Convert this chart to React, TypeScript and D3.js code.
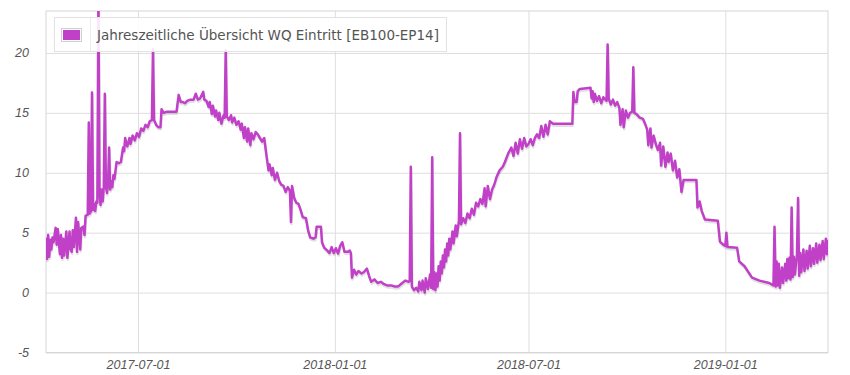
import React, { useEffect, useRef } from 'react';
import * as d3 from 'd3';

const seriesLabel = 'Jahreszeitliche Übersicht WQ Eintritt [EB100-EP14]';
const yTicks = [-5, 0, 5, 10, 15, 20];
const xTickLabels = ['2017-07-01', '2018-01-01', '2018-07-01', '2019-01-01'];

// sample dates, one line per month
const dates = [
  '2017-04-06', '2017-04-07', '2017-04-08', '2017-04-09', '2017-04-10', '2017-04-11', '2017-04-12', '2017-04-13', '2017-04-15', '2017-04-16', '2017-04-17', '2017-04-19', '2017-04-20', '2017-04-21', '2017-04-22', '2017-04-23', '2017-04-25', '2017-04-26', '2017-04-28', '2017-04-29', '2017-04-30',
  '2017-05-01', '2017-05-02', '2017-05-04', '2017-05-05', '2017-05-06', '2017-05-08', '2017-05-09', '2017-05-11', '2017-05-12', '2017-05-13', '2017-05-15', '2017-05-16', '2017-05-17', '2017-05-18', '2017-05-19', '2017-05-20', '2017-05-21', '2017-05-22', '2017-05-23', '2017-05-24', '2017-05-25', '2017-05-26', '2017-05-27', '2017-05-28', '2017-05-29', '2017-05-30', '2017-05-31',
  '2017-06-01', '2017-06-02', '2017-06-03', '2017-06-04', '2017-06-05', '2017-06-06', '2017-06-07', '2017-06-08', '2017-06-09', '2017-06-10', '2017-06-11', '2017-06-13', '2017-06-15', '2017-06-17', '2017-06-18', '2017-06-19', '2017-06-20', '2017-06-21', '2017-06-23', '2017-06-24', '2017-06-26', '2017-06-28', '2017-06-30',
  '2017-07-02', '2017-07-04', '2017-07-06', '2017-07-08', '2017-07-10', '2017-07-12', '2017-07-14', '2017-07-15', '2017-07-16', '2017-07-18', '2017-07-20', '2017-07-22', '2017-07-23', '2017-07-25', '2017-07-28',
  '2017-08-02', '2017-08-06', '2017-08-08', '2017-08-10', '2017-08-12', '2017-08-14', '2017-08-16', '2017-08-19', '2017-08-22', '2017-08-24', '2017-08-26', '2017-08-28', '2017-08-31',
  '2017-09-01', '2017-09-03', '2017-09-05', '2017-09-06', '2017-09-08', '2017-09-09', '2017-09-11', '2017-09-12', '2017-09-14', '2017-09-15', '2017-09-17', '2017-09-19', '2017-09-20', '2017-09-21', '2017-09-22', '2017-09-24', '2017-09-26', '2017-09-27', '2017-09-29',
  '2017-10-01', '2017-10-03', '2017-10-05', '2017-10-06', '2017-10-08', '2017-10-09', '2017-10-11', '2017-10-12', '2017-10-14', '2017-10-15', '2017-10-17', '2017-10-19', '2017-10-21', '2017-10-23', '2017-10-25', '2017-10-27', '2017-10-29', '2017-10-31',
  '2017-11-01', '2017-11-03', '2017-11-04', '2017-11-06', '2017-11-08', '2017-11-10', '2017-11-12', '2017-11-14', '2017-11-16', '2017-11-18', '2017-11-20', '2017-11-21', '2017-11-22', '2017-11-24', '2017-11-26', '2017-11-28', '2017-11-30',
  '2017-12-02', '2017-12-05', '2017-12-07', '2017-12-09', '2017-12-12', '2017-12-14', '2017-12-15', '2017-12-19', '2017-12-20', '2017-12-22', '2017-12-25', '2017-12-27', '2017-12-29', '2017-12-31',
  '2018-01-02', '2018-01-04', '2018-01-06', '2018-01-08', '2018-01-10', '2018-01-13', '2018-01-15', '2018-01-16', '2018-01-17', '2018-01-19', '2018-01-21', '2018-01-23', '2018-01-26', '2018-01-28', '2018-01-31',
  '2018-02-02', '2018-02-04', '2018-02-07', '2018-02-10', '2018-02-13', '2018-02-16', '2018-02-19', '2018-02-23', '2018-02-26',
  '2018-03-01', '2018-03-05', '2018-03-08', '2018-03-11', '2018-03-12', '2018-03-13', '2018-03-14', '2018-03-16', '2018-03-18', '2018-03-20', '2018-03-21', '2018-03-23', '2018-03-24', '2018-03-26', '2018-03-27', '2018-03-29', '2018-03-31',
  '2018-04-01', '2018-04-02', '2018-04-03', '2018-04-04', '2018-04-05', '2018-04-06', '2018-04-07', '2018-04-08', '2018-04-09', '2018-04-10', '2018-04-11', '2018-04-12', '2018-04-13', '2018-04-14', '2018-04-15', '2018-04-16', '2018-04-17', '2018-04-18', '2018-04-19', '2018-04-21', '2018-04-22', '2018-04-24', '2018-04-25', '2018-04-27', '2018-04-28', '2018-04-29',
  '2018-05-01', '2018-05-03', '2018-05-05', '2018-05-07', '2018-05-09', '2018-05-11', '2018-05-13', '2018-05-15', '2018-05-17', '2018-05-19', '2018-05-21', '2018-05-22', '2018-05-24', '2018-05-26', '2018-05-28', '2018-05-30',
  '2018-06-01', '2018-06-04', '2018-06-07', '2018-06-09', '2018-06-12', '2018-06-15', '2018-06-17', '2018-06-19', '2018-06-21', '2018-06-23', '2018-06-25', '2018-06-27', '2018-06-29',
  '2018-07-01', '2018-07-03', '2018-07-05', '2018-07-07', '2018-07-09', '2018-07-11', '2018-07-13', '2018-07-15', '2018-07-17', '2018-07-19', '2018-07-21', '2018-07-24',
  '2018-08-11', '2018-08-12', '2018-08-13', '2018-08-15', '2018-08-16', '2018-08-18', '2018-08-28', '2018-08-29', '2018-08-30', '2018-08-31',
  '2018-09-01', '2018-09-03', '2018-09-05', '2018-09-07', '2018-09-09', '2018-09-12', '2018-09-13', '2018-09-14', '2018-09-16', '2018-09-18', '2018-09-20', '2018-09-22', '2018-09-24', '2018-09-25', '2018-09-27', '2018-09-28', '2018-09-30',
  '2018-10-02', '2018-10-04', '2018-10-06', '2018-10-07', '2018-10-08', '2018-10-10', '2018-10-13', '2018-10-16', '2018-10-18', '2018-10-20', '2018-10-21', '2018-10-23', '2018-10-24', '2018-10-26', '2018-10-28', '2018-10-30',
  '2018-11-01', '2018-11-02', '2018-11-04', '2018-11-06', '2018-11-08', '2018-11-09', '2018-11-11', '2018-11-13', '2018-11-15', '2018-11-17', '2018-11-19', '2018-11-21', '2018-11-23',
  '2018-12-05', '2018-12-06', '2018-12-08', '2018-12-10', '2018-12-13', '2018-12-25', '2018-12-27', '2018-12-30',
  '2019-01-01', '2019-01-02', '2019-01-03', '2019-01-12', '2019-01-14', '2019-01-19', '2019-01-26',
  '2019-02-02', '2019-02-11', '2019-02-15', '2019-02-16', '2019-02-17', '2019-02-18', '2019-02-19', '2019-02-20', '2019-02-21', '2019-02-23', '2019-02-24', '2019-02-26', '2019-02-27', '2019-02-28',
  '2019-03-01', '2019-03-02', '2019-03-03', '2019-03-04', '2019-03-05', '2019-03-06', '2019-03-07', '2019-03-09', '2019-03-10', '2019-03-11', '2019-03-12', '2019-03-13', '2019-03-15', '2019-03-16', '2019-03-18', '2019-03-19', '2019-03-21', '2019-03-22', '2019-03-24', '2019-03-25', '2019-03-27', '2019-03-28', '2019-03-30', '2019-03-31',
  '2019-04-02', '2019-04-03', '2019-04-05', '2019-04-06', '2019-04-07',
];

// WQ inlet readings, same order as dates
const values = [
  4.6, 2.8, 4.8, 3.0, 4.4, 3.6, 4.6, 4.2, 5.4, 4.0, 5.3, 3.2, 4.8, 2.9, 4.5, 3.1, 5.1, 2.9, 5.1, 3.6, 3.4,
  5.2, 3.8, 6.25, 3.4, 5.9, 3.6, 5.4, 5.5, 4.8, 6.4, 6.5, 14.2, 6.6, 6.8, 16.7, 6.9, 7.4, 6.8, 7.6, 7.5, 25, 8.4, 7.3, 8.6, 7.6, 8.8, 16.6,
  8.9, 8.3, 9.1, 12.1, 8.6, 9.3, 8.8, 9.8, 9.5, 10.2, 10.9, 10.8, 10.9, 12.1, 11.8, 12.9, 12.5, 12.2, 12.9, 12.4, 13.1, 12.7, 13.3,
  13.0, 13.7, 13.5, 14.0, 13.8, 14.3, 14.4, 20.3, 14.4, 14.0, 13.8, 13.8, 15.3, 15.0, 15.1,
  15.1, 15.1, 16.5, 15.9, 15.9, 15.8, 16.0, 16.1, 16.1, 16.6, 16.1, 16.2, 16.75,
  16.1, 16.0, 15.5, 15.9, 14.9, 15.6, 14.7, 15.2, 14.4, 15.0, 14.1, 14.8, 14.6, 20.25, 14.7, 14.4, 14.8, 14.2, 14.6,
  14.0, 14.3, 13.6, 14.1, 12.9, 13.8, 12.6, 13.7, 12.3, 13.3, 12.8, 13.4, 13.2, 12.9, 12.6, 12.9, 11.5, 10.2,
  10.7, 9.8, 10.4, 9.4, 10.0, 9.3, 9.0, 8.9, 8.4, 8.8, 8.5, 5.9, 8.9, 7.9, 7.5, 7.4, 6.9,
  6.3, 6.2, 5.2, 4.6, 4.5, 4.6, 5.5, 5.5, 4.2, 3.75, 3.5, 3.3, 3.8, 3.3,
  3.7, 3.25, 3.9, 4.2, 3.4, 3.4, 3.5, 3.3, 1.25, 1.9, 1.5, 1.8, 1.6, 1.7, 2.0,
  1.4, 0.9, 1.1, 0.8, 0.9, 0.7, 0.6, 0.6, 0.5,
  0.5, 0.8, 1.0, 0.9, 1.0, 10.5, 0.5, 0.2, 0.4, 0.1, 0.9, 0.2, 1.0, 0.0, 1.2, 0.3, 1.5,
  0.4, 11.3, 0.3, 1.7, 0.2, 1.6, 0.5, 2.2, 1.0, 2.6, 1.6, 3.1, 2.1, 3.6, 2.6, 4.1, 3.1, 4.5, 3.6, 5.1, 4.1, 5.6, 4.7, 6.0, 13.3, 5.7,
  6.2, 5.8, 6.6, 6.2, 7.0, 6.5, 7.5, 7.2, 7.8, 7.4, 8.7, 7.2, 8.9, 7.8, 8.6, 9.0,
  9.6, 10.2, 10.5, 10.9, 11.6, 12.1, 11.4, 12.5, 11.6, 12.8, 12.0, 12.9, 12.2,
  12.4, 12.8, 12.3, 12.9, 13.2, 12.9, 13.9, 13.0, 14.0, 13.2, 14.3, 14.1,
  14.1, 16.75, 15.9, 15.9, 16.8, 17.0, 17.1, 16.2, 16.8, 15.9,
  16.6, 16.0, 16.4, 15.8, 16.3, 16.0, 20.7, 16.2, 15.7, 16.1, 15.6, 15.9, 15.4, 14.0, 15.3, 13.8, 15.2,
  14.6, 15.0, 15.1, 18.8, 15.0, 14.9, 14.6, 14.5, 14.1, 13.6, 12.3, 13.7, 12.1, 13.1, 12.4, 11.9,
  12.5, 10.6, 12.2, 10.5, 11.7, 10.9, 11.6, 10.2, 11.0, 9.6, 10.3, 8.4, 9.4,
  9.4, 7.1, 7.6, 6.8, 6.1, 6.0, 4.25, 4.0,
  3.9, 5.0, 3.8, 3.75, 2.6, 2.2, 1.25,
  1.0, 0.8, 0.6, 5.5, 0.5, 2.6, 0.6, 2.4, 0.4, 2.1, 0.8, 2.4, 1.0, 2.8,
  1.2, 2.9, 1.1, 7.1, 1.3, 3.0, 1.5, 3.2, 7.9, 1.4, 3.3, 1.7, 3.6, 1.8, 3.5, 2.0, 3.9, 2.2, 3.7, 2.4, 4.1, 2.5, 4.0, 2.7,
  4.3, 2.8, 4.5, 3.2, 4.4,
];

const WIDTH = 850;
const HEIGHT = 375;
const plot = { left: 46, right: 828, top: 11, bottom: 352.5 };
const lineColor = '#c040c8';
const gridColor = '#dedede';
const tickFont = '"Liberation Sans", Arial, sans-serif';

const SeasonChart = () => {
  const ref = useRef<SVGSVGElement>(null);

  useEffect(() => {
    const svg = d3.select(ref.current);
    svg.selectAll('*').remove();

    const parse = d3.timeParse('%Y-%m-%d');
    const n = Math.min(dates.length, values.length);
    const data = dates.slice(0, n).map((d, i) => ({ t: parse(d) as Date, v: values[i] }));

    const x = d3
      .scaleTime()
      .domain(d3.extent(data, (d) => d.t) as [Date, Date])
      .range([plot.left, plot.right]);
    const y = d3.scaleLinear().domain([-5, 23.5]).range([plot.bottom, plot.top]);

    svg
      .append('rect')
      .attr('width', WIDTH)
      .attr('height', HEIGHT)
      .attr('fill', '#fff');

    // y axis + horizontal grid
    const yAxis = svg
      .append('g')
      .attr('transform', `translate(${plot.left},0)`)
      .call(
        d3
          .axisLeft(y)
          .tickValues(yTicks)
          .tickSize(-(plot.right - plot.left))
          .tickPadding(17)
          .tickFormat((d) => String(d))
      );
    yAxis.select('.domain').remove();
    yAxis.selectAll('line').attr('stroke', gridColor);
    yAxis
      .selectAll('text')
      .attr('fill', '#555')
      .style('font-family', tickFont)
      .style('font-style', 'italic')
      .style('font-size', '12.5px');

    // x axis + vertical grid
    const xTicks = xTickLabels.map((s) => parse(s) as Date);
    const xAxis = svg
      .append('g')
      .attr('transform', `translate(0,${plot.bottom})`)
      .call(
        d3
          .axisBottom(x)
          .tickValues(xTicks)
          .tickSize(-(plot.bottom - plot.top))
          .tickPadding(8)
          .tickFormat((d) => d3.timeFormat('%Y-%m-%d')(d as Date))
      );
    xAxis.select('.domain').remove();
    xAxis.selectAll('line').attr('stroke', gridColor);
    xAxis
      .selectAll('text')
      .attr('fill', '#555')
      .style('font-family', tickFont)
      .style('font-style', 'italic')
      .style('font-size', '12.5px');

    // plot border
    svg
      .append('rect')
      .attr('x', plot.left)
      .attr('y', plot.top)
      .attr('width', plot.right - plot.left)
      .attr('height', plot.bottom - plot.top)
      .attr('fill', 'none')
      .attr('stroke', '#d6d6d6');

    svg
      .append('clipPath')
      .attr('id', 'plot-clip')
      .append('rect')
      .attr('x', plot.left)
      .attr('y', plot.top)
      .attr('width', plot.right - plot.left)
      .attr('height', plot.bottom - plot.top);

    const line = d3
      .line<{ t: Date; v: number }>()
      .x((d) => x(d.t))
      .y((d) => y(d.v));

    const g = svg.append('g').attr('clip-path', 'url(#plot-clip)');

    // soft shadow like the original
    g.append('path')
      .datum(data)
      .attr('fill', 'none')
      .attr('stroke', 'rgba(0,0,0,0.12)')
      .attr('stroke-width', 2.5)
      .attr('stroke-linejoin', 'round')
      .attr('transform', 'translate(0.5,2)')
      .attr('d', line);

    g.append('path')
      .datum(data)
      .attr('fill', 'none')
      .attr('stroke', lineColor)
      .attr('stroke-width', 2.5)
      .attr('stroke-linejoin', 'round')
      .attr('d', line);

    // legend
    const legend = svg.append('g');
    legend
      .append('rect')
      .attr('x', 54.5)
      .attr('y', 17.5)
      .attr('width', 392)
      .attr('height', 34)
      .attr('fill', 'rgba(255,255,255,0.88)')
      .attr('stroke', '#e2e2e2');
    legend
      .append('line')
      .attr('x1', 90.5)
      .attr('x2', 90.5)
      .attr('y1', 18)
      .attr('y2', 51)
      .attr('stroke', '#ececec');
    legend
      .append('rect')
      .attr('x', 61.5)
      .attr('y', 28.5)
      .attr('width', 20)
      .attr('height', 13)
      .attr('fill', '#fff')
      .attr('stroke', '#d0d0d0');
    legend
      .append('rect')
      .attr('x', 63)
      .attr('y', 30)
      .attr('width', 17)
      .attr('height', 10)
      .attr('fill', lineColor);
    legend
      .append('text')
      .attr('x', 97)
      .attr('y', 40)
      .attr('fill', '#545454')
      .style('font-family', '"DejaVu Sans", Verdana, sans-serif')
      .style('font-size', '13.5px')
      .text(seriesLabel);
  }, []);

  return (
    <svg
      ref={ref}
      width={WIDTH}
      height={HEIGHT}
      style={{ position: 'absolute', left: 0, top: 0 }}></svg>
  );
};

export default function App() {
  return <SeasonChart />;
}
